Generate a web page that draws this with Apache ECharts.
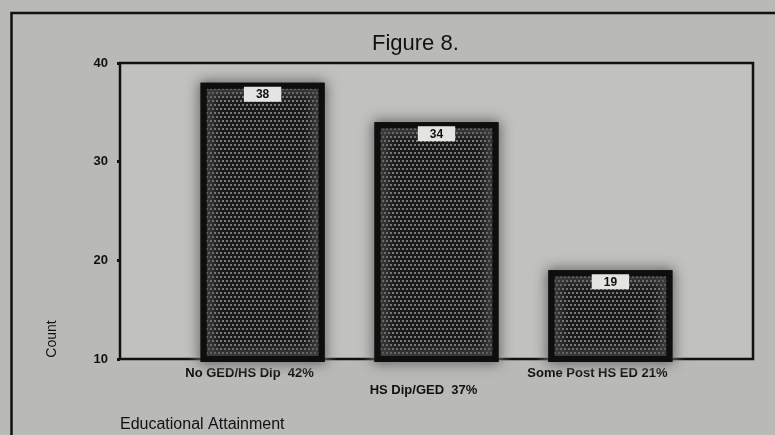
<!DOCTYPE html>
<html>
<head>
<meta charset="utf-8">
<title>Figure 8.</title>
<script src="https://cdn.jsdelivr.net/npm/echarts@6/dist/echarts.min.js"></script>
<style>
  html, body { margin: 0; padding: 0; background: #b9b9b7; }
  #chart { width: 775px; height: 435px; }
</style>
</head>
<body>
<div id="chart"></div>
<script>
// Educational attainment counts
const categories = ['No GED/HS Dip  42%', 'HS Dip/GED  37%', 'Some Post HS ED 21%'];
const counts = [38, 34, 19];
const positions = [1, 2, 3];
const yTicks = [10, 20, 30, 40];

const FONT = '"Liberation Sans", Arial, sans-serif';
const INK = '#111111';

const chart = echarts.init(document.getElementById('chart'), null, { renderer: 'canvas' });

const option = {
  backgroundColor: '#b9b9b7',
  animation: false,
  title: {
    text: 'Figure 8.',
    left: 367,
    top: 28,
    textStyle: { fontFamily: FONT, fontSize: 22, fontWeight: 'normal', color: INK }
  },
  grid: {
    left: 120, right: 22, top: 63, bottom: 76,
    show: true,
    backgroundColor: '#c1c1bf',
    borderColor: INK,
    borderWidth: 2.5
  },
  xAxis: {
    type: 'value',
    min: 0.18,
    max: 3.82,
    splitLine: { show: false },
    axisLine: { show: false },
    axisTick: {
      show: true,
      customValues: positions,
      length: 3,
      lineStyle: { color: INK, width: 3 }
    },
    axisLabel: {
      customValues: positions,
      margin: 6,
      padding: [0, 26, 0, 0],
      lineHeight: 17,
      fontFamily: FONT,
      fontSize: 13,
      fontWeight: 'bold',
      color: INK,
      formatter: function (v) {
        const i = Math.round(v) - 1;
        return (i === 1 ? '\n' : '') + categories[i];
      }
    }
  },
  yAxis: {
    type: 'value',
    min: yTicks[0],
    max: yTicks[yTicks.length - 1],
    interval: 10,
    splitLine: { show: false },
    axisLine: { show: false },
    axisTick: { show: true, length: 3, lineStyle: { color: INK, width: 3 } },
    axisLabel: {
      margin: 12,
      fontFamily: FONT,
      fontSize: 13,
      fontWeight: 'bold',
      color: INK
    }
  },
  series: [{
    type: 'bar',
    barWidth: 124,
    data: positions.map((p, i) => [p, counts[i]]),
    itemStyle: {
      color: '#202020',
      borderColor: '#0e0e0e',
      borderWidth: 6,
      shadowColor: 'rgba(238,238,234,1)',
      shadowBlur: 14,
      decal: {
        symbol: 'rect',
        symbolSize: 1,
        color: 'rgba(165,165,165,0.7)',
        dashArrayX: [[2, 2], [0, 2, 2, 0]],
        dashArrayY: [2, 2],
        rotation: 0
      }
    },
    label: {
      show: true,
      position: 'insideTop',
      distance: 4,
      backgroundColor: '#e4e4e2',
      padding: [2, 12, 1, 12],
      fontFamily: FONT,
      fontSize: 12,
      fontWeight: 'bold',
      color: INK,
      formatter: function (p) { return String(p.value[1]); }
    }
  }],
  graphic: [
    {
      type: 'rect',
      silent: true,
      shape: { x: 11.5, y: 13, width: 820, height: 480 },
      style: { fill: null, stroke: INK, lineWidth: 2.5 },
      z: -1
    },
    {
      type: 'text',
      x: 52, y: 339,
      rotation: Math.PI / 2,
      style: {
        text: 'Count',
        font: '14px ' + FONT,
        fill: INK,
        textAlign: 'center', textVerticalAlign: 'middle',
        align: 'center', verticalAlign: 'middle'
      }
    },
    {
      type: 'text',
      x: 120, y: 425,
      style: {
        text: 'Educational Attainment',
        font: '16px ' + FONT,
        fill: INK,
        textAlign: 'left', textVerticalAlign: 'middle',
        align: 'left', verticalAlign: 'middle'
      }
    }
  ]
};

chart.setOption(option);
</script>
</body>
</html>
